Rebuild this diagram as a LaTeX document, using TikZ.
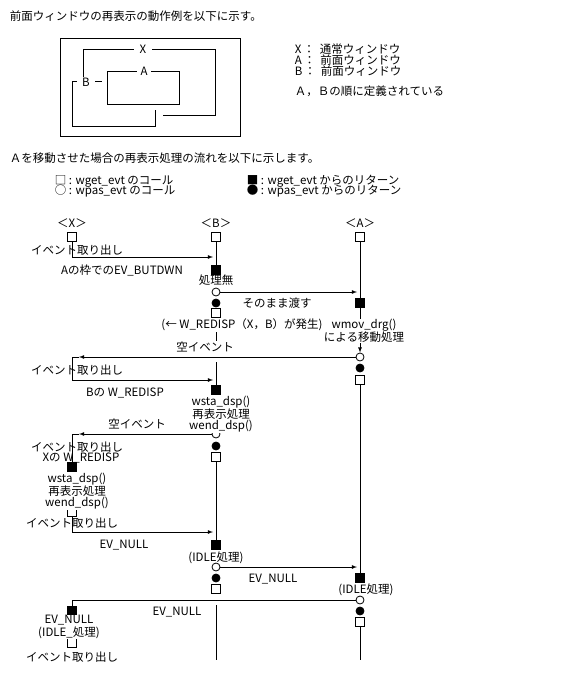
\documentclass[tikz,border=0pt]{standalone}
\usepackage{fontspec}
\newfontfamily\jpfont{Noto Sans CJK JP}
\usetikzlibrary{positioning,arrows}

\begin{document}
\begin{tikzpicture}[
		x=1pt,y=-1pt,line width=0.8pt,
		every node/.style={font=\jpfont\fontsize{11.5}{11}\selectfont},
		callsq/.style={draw,rectangle,minimum size=9pt,inner sep=0pt,fill=white},
		retsq/.style={draw,rectangle,minimum size=9pt,inner sep=0pt,fill=black},
		callci/.style={draw,circle,minimum size=8pt,inner sep=0pt,fill=white},
		retci/.style={draw,circle,minimum size=8pt,inner sep=0pt,fill=black},
		lbl/.style={inner sep=0.5pt},
		mask/.style={inner sep=0.5pt,fill=white},
		multi/.style={align=center,inner sep=0.5pt,fill=white}
		]
		\useasboundingbox (0,0) rectangle (576,693);
		% texts above
		\node[lbl,anchor=west] (title) at (9,16) {前面ウィンドウの再表示の動作例を以下に示す。};
		\node[lbl,anchor=west,align=left] (kinds) at (294,60) {X\,：\hspace{5pt}通常ウィンドウ\\A\,：\hspace{5pt}前面ウィンドウ\\B\,：\hspace{5pt}前面ウィンドウ};
		\node[lbl,anchor=west] (order) at (294,91) {Ａ，Ｂの順に定義されている};
		% windows
		\draw (60,38) rectangle (240,136);
		\draw (163,115) -- (215,115) -- (215,49) -- (83,49) -- (83,77);
		\draw (107,71) rectangle (179,104);
		\draw (155,110) -- (155,126) -- (72,126) -- (72,81) -- (102,81);
		\node[mask,inner xsep=6pt] (wx) at (143,49) {X};
		\node[mask,inner xsep=4pt] (wa) at (144,71) {A};
		\node[mask,inner xsep=5pt] (wb) at (86,82) {B};
		\node[lbl,anchor=west] (flow) at (9,158) {Ａを移動させた場合の再表示処理の流れを以下に示します。};
		\node[lbl,anchor=west] (lgcall) at (54,181) {□ : wget\_evt のコール};
		\node[lbl,anchor=west] (lgpas) at (54,191) {○ : wpas\_evt のコール};
		\node[lbl,anchor=west] (lgret) at (246,181) {■ : wget\_evt からのリターン};
		\node[lbl,anchor=west] (lgpret) at (246,191) {● : wpas\_evt からのリターン};
		% X
		\node[callsq] (x0) at (72,237) {};
		\node[retsq] (x2) at (72,467) {};
		\node[callsq] (x3) at (72,512) {};
		\node[retsq] (x4) at (72,611) {};
		\node[callsq] (x5) at (72,643) {};
		% B
		\node[callsq] (b0) at (216,237) {};
		\node[retsq] (b1) at (216,270) {};
		\node[callci] (b2) at (216,292) {};
		\node[retci] (b3) at (216,303) {};
		\node[callsq] (b4) at (216,313) {};
		\node[retsq] (b5) at (216,390) {};
		\node[callci] (b6) at (216,434) {};
		\node[retci] (b7) at (216,446) {};
		\node[callsq] (b8) at (216,457) {};
		\node[retsq] (b9) at (216,545) {};
		\node[callci] (b10) at (216,567) {};
		\node[retci] (b11) at (216,578) {};
		\node[callsq] (b12) at (216,589) {};
		% A
		\node[callsq] (a0) at (360,237) {};
		\node[retsq] (a1) at (360,303) {};
		\node[callci] (a2) at (360,357) {};
		\node[retci] (a3) at (360,368) {};
		\node[callsq] (a4) at (360,380) {};
		\node[retsq] (a5) at (360,578) {};
		\node[callci] (a6) at (360,600) {};
		\node[retci] (a7) at (360,611) {};
		\node[callsq] (a8) at (360,622) {};
		\node[above=1pt of x0] (hx) {＜X＞};
		\node[above=1pt of b0] (hb) {＜B＞};
		\node[above=1pt of a0] (ha) {＜A＞};
		\coordinate (bgapA) at (216,352);
		\coordinate (bgapB) at (216,362);
		\coordinate (bgapC) at (216,605);
		\coordinate (bend) at (216,660);
		\coordinate (aend) at (360,660);
		\coordinate (bin1) at (213,257);
		\coordinate (bin2) at (213,380);
		\coordinate (bin3) at (213,532);
		\coordinate (ain1) at (357,292);
		\coordinate (ain2) at (357,567);
		\coordinate (xt1) at (79,357);
		\coordinate (xc1) at (72,357);
		\coordinate (xt2) at (79,434);
		\coordinate (xc2) at (72,434);
		% lifelines
		\draw (b0) -- (b1);
		\draw (b4) -- (bgapA);
		\draw (bgapB) -- (b5);
		\draw (b8) -- (b9);
		\draw (bgapC) -- (bend);
		\draw (a0) -- (a1);
		\draw[-latex] (a1) -- (a2);
		\draw (a4) -- (a5);
		\draw (a8) -- (aend);
		% labels
		\node[lbl] (getx0) at (77,250) {イベント取り出し};
		\node[lbl] (butdwn) at (122,270) {Aの枠でのEV\_BUTDWN};
		\node[mask,above=1pt of b2] (nop) {処理無};
		\node[lbl] (pass) at (277,303) {そのまま渡す};
		\node[mask] (redisp) at (242,325) {(← W\_REDISP（X，B）が発生)};
		\node[multi] (drg) at (364,331) {wmov\_drg()\\による移動処理};
		\node[mask] (empty1) at (205,347) {空イベント};
		\node[lbl] (getx1) at (77,370) {イベント取り出し};
		\node[lbl] (bredisp) at (125,393) {Bの W\_REDISP};
		\node[multi] (bdsp) at (221,414) {wsta\_dsp()\\再表示処理\\wend\_dsp()};
		\node[lbl] (empty2) at (137,424) {空イベント};
		\node[lbl] (getx2) at (77,447) {イベント取り出し};
		\node[lbl] (xredisp) at (81,458) {Xの W\_REDISP};
		\node[multi] (xdsp) at (77,491) {wsta\_dsp()\\再表示処理\\wend\_dsp()};
		\node[lbl] (getx3) at (72,523) {イベント取り出し};
		\node[lbl] (null1) at (124,545) {EV\_NULL};
		\node[lbl,below=1pt of b9] (bidle) {(IDLE処理)};
		\node[lbl] (null2) at (273,579) {EV\_NULL};
		\node[lbl] (aidle) at (366,590) {(IDLE処理)};
		\node[lbl] (null3) at (177,612) {EV\_NULL};
		\node[multi] (xidle) at (69,627) {EV\_NULL\\(IDLE\_処理)};
		\node[lbl] (getx4) at (72,657) {イベント取り出し};
		% messages
		\draw[-latex] (x0) |- (bin1);
		\draw[-latex] (b2) -- (ain1);
		\draw[-latex] (a2) -- (xt1);
		\draw[-latex] (xt1) -- (xc1) |- (bin2);
		\draw[-latex] (b6) -- (xt2);
		\draw (xt2) -- (xc2) -- (x2);
		\draw[-latex] (x3) |- (bin3);
		\draw[-latex] (b10) -- (ain2);
		\draw (a6) -| (x4);
	\end{tikzpicture}
\end{document}
